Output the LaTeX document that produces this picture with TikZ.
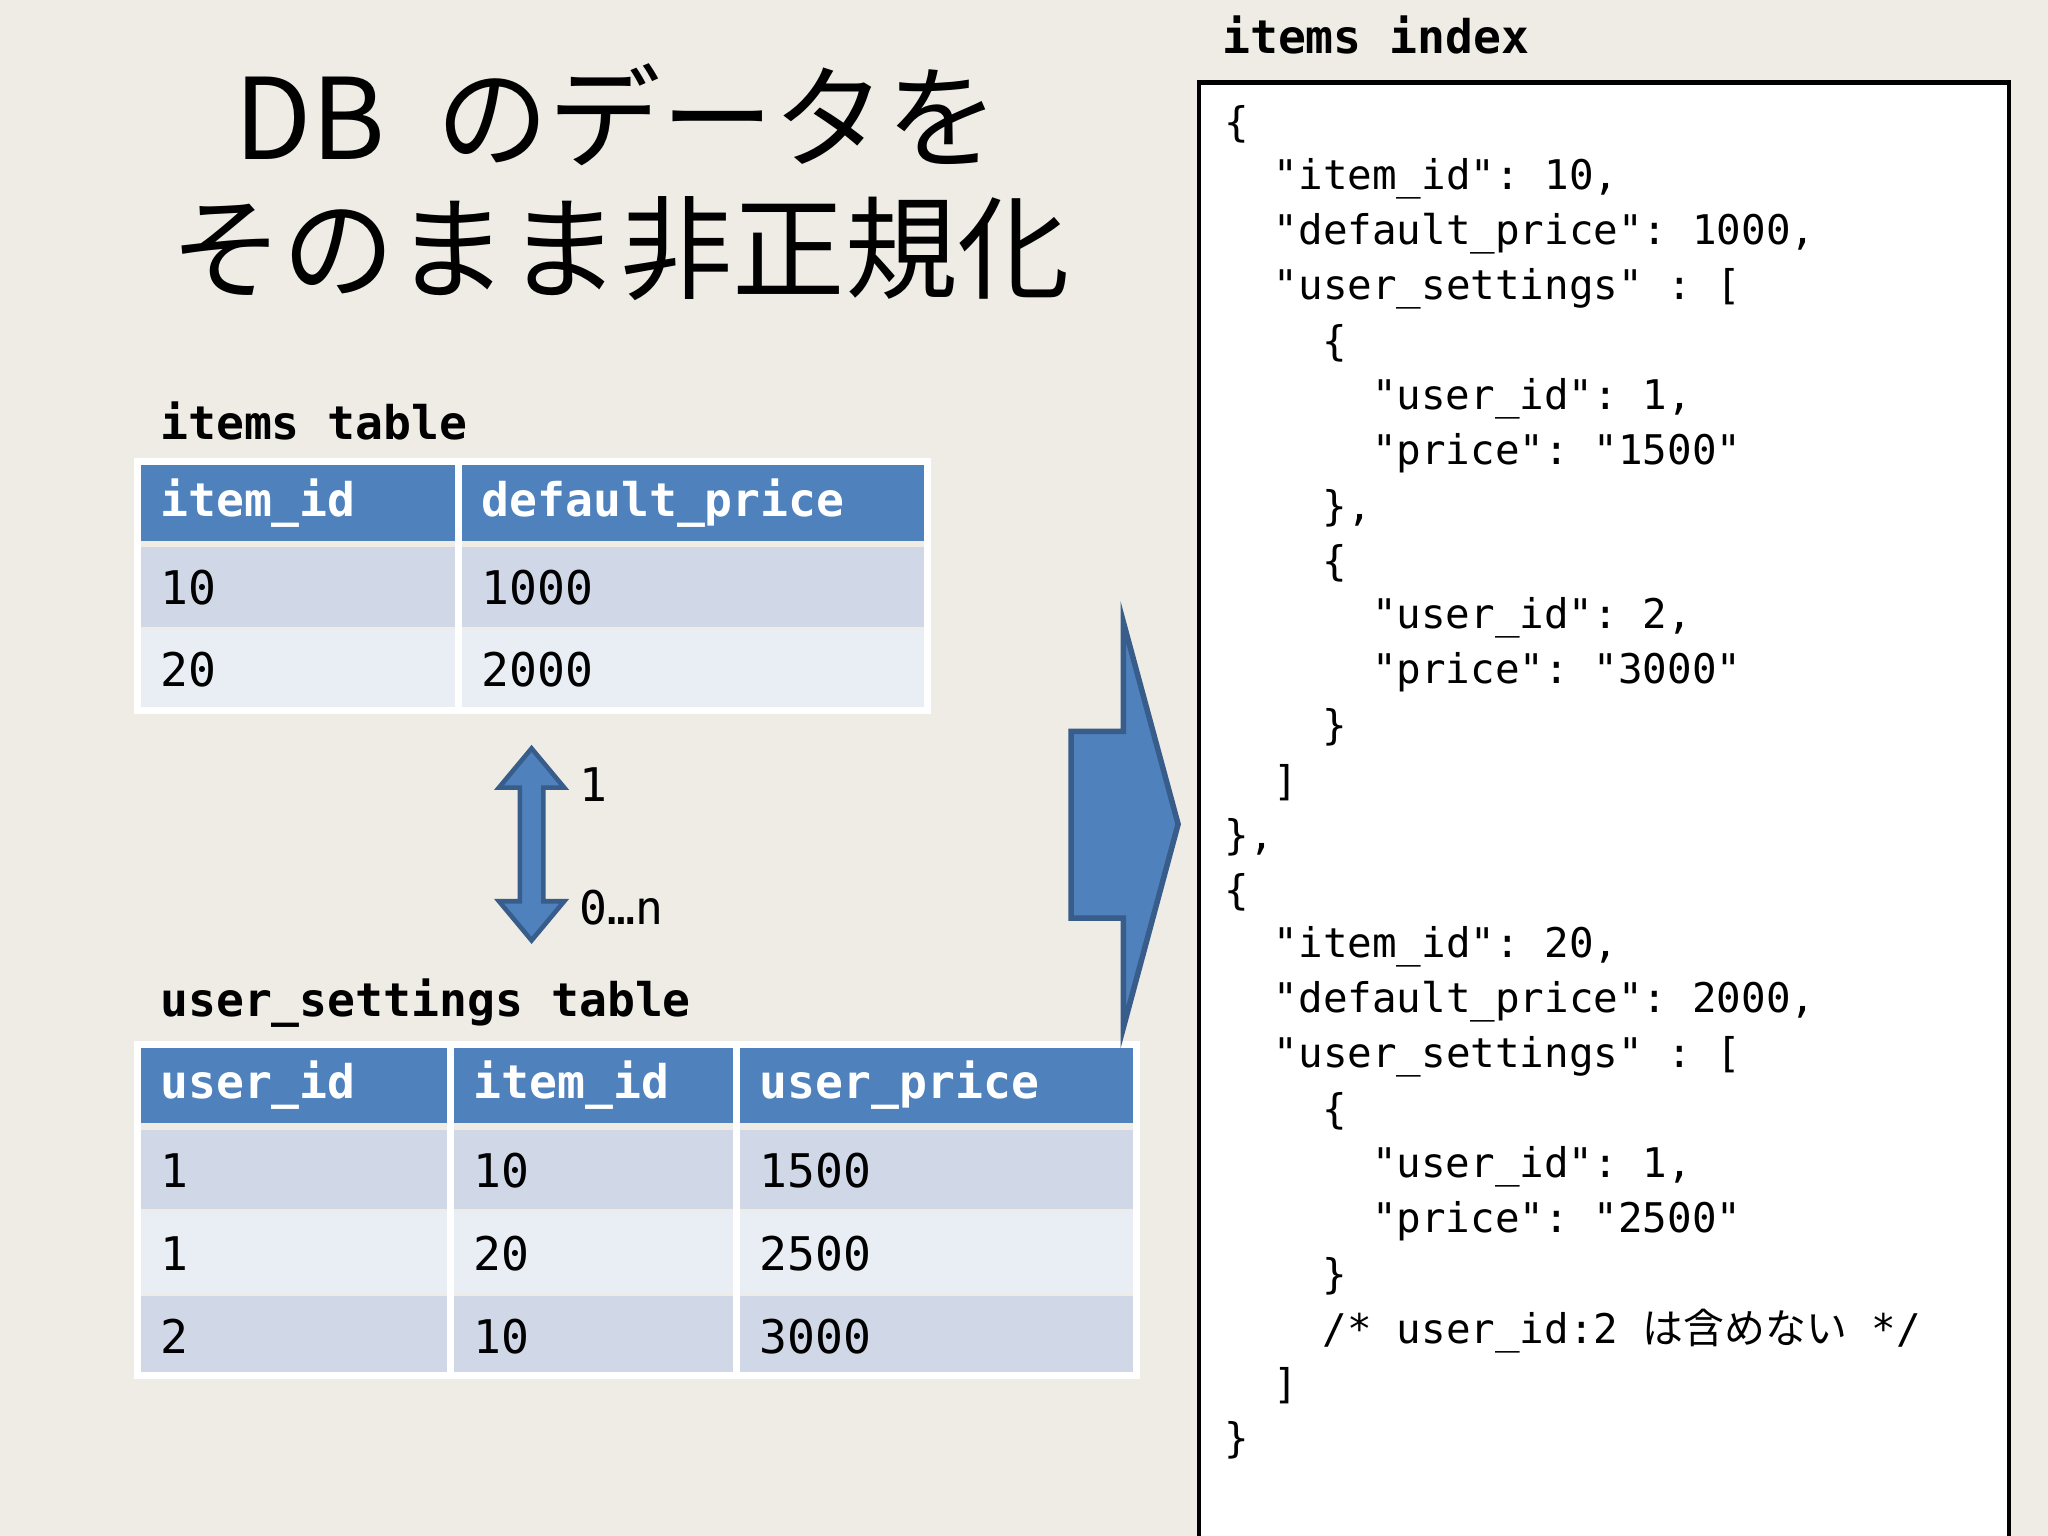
\documentclass[tikz,border=0pt]{standalone}
\usepackage{fontspec}
\setmonofont{DejaVu Sans Mono}
\newfontfamily\cjk{Noto Sans CJK JP}
\definecolor{bg}{HTML}{EEECE5}
\definecolor{hdr}{HTML}{4F81BD}
\definecolor{rowA}{HTML}{D0D8E8}
\definecolor{rowB}{HTML}{E9EDF4}
\definecolor{edge}{HTML}{385D8A}
\newcommand\cl[3]{\node[code] (c#1) at ({937+#2*18.8},{95+42*(#1-1)}) {#3};}
\begin{document}
\begin{tikzpicture}[x=0.01cm,y=-0.01cm,
  code/.style={anchor=west,inner sep=0,font=\ttfamily\fontsize{8.9}{10}\selectfont},
  cell/.style={anchor=west,inner sep=0,font=\ttfamily\fontsize{10.1}{12}\selectfont},
  hcell/.style={cell,text=white,font=\ttfamily\bfseries\fontsize{10.1}{12}\selectfont},
  lbl/.style={anchor=west,inner sep=0,font=\ttfamily\bfseries\fontsize{10.1}{12}\selectfont}]
\fill[bg] (0,0) rectangle (1568,1176);
\useasboundingbox (0,0) rectangle (1568,1176);
% title
\node[font=\cjk\fontsize{24.5}{28}\selectfont] (t1) at (472,88) {DB\ \ のデータを};
\node[font=\cjk\fontsize{24.5}{28}\selectfont] (t2) at (475,190) {そのまま非正規化};
% items table
\node[lbl] (l1) at (122,322) {items table};
\fill[hdr] (105,353) rectangle (710,414);
\fill[rowA] (105,419) rectangle (710,480);
\fill[rowB] (105,482) rectangle (710,544);
\draw[white,line width=1.5pt] (351,353) -- (351,544);
\draw[white,line width=1.5pt] (105,544) rectangle (710,353);
\node[hcell] at (122,385) {item\_id};
\node[hcell] at (368,385) {default\_price};
\node[cell] at (122,450) {10};
\node[cell] at (368,450) {1000};
\node[cell] at (122,513) {20};
\node[cell] at (368,513) {2000};
% user_settings table
\node[lbl] (l2) at (122,768) {user\_settings table};
\fill[hdr] (105,800) rectangle (870,860);
\fill[rowA] (105,865) rectangle (870,926);
\fill[rowB] (105,928) rectangle (870,990);
\fill[rowA] (105,992) rectangle (870,1053);
\draw[white,line width=1.5pt] (345,800) -- (345,1053) (564,800) -- (564,1053);
\draw[white,line width=1.5pt] (105,800) rectangle (870,1053);
\node[hcell] at (122,831) {user\_id};
\node[hcell] at (362,831) {item\_id};
\node[hcell] at (581,831) {user\_price};
\foreach \y/\a/\b/\c in {896/1/10/1500,960/1/20/2500,1023/2/10/3000}{
  \node[cell] at (122,\y) {\a};
  \node[cell] at (362,\y) {\b};
  \node[cell] at (581,\y) {\c};
}
% double arrow
\draw[edge,fill=hdr,line width=1pt] (407,573) -- (432,603) -- (416,603) -- (416,690) -- (432,690) -- (407,720) -- (382,690) -- (398,690) -- (398,603) -- (382,603) -- cycle;
\node[cell] (one) at (443,601) {1};
\node[cell] (zn) at (443,695) {0…n};
% big arrow
\draw[edge,fill=hdr,line width=1.2pt] (820,560) -- (860,560) -- (860,476) -- (902,631) -- (860,787) -- (860,703) -- (820,703) -- cycle;
% code box
\node[lbl] (l3) at (935,27) {items index};
\fill[white] (918,63) rectangle (1538,1180);
\draw[black,line width=1pt] (918,1180) -- (918,63) -- (1538,63) -- (1538,1180);
\cl{1}{0}{\{}
\cl{2}{2}{"item\_id": 10,}
\cl{3}{2}{"default\_price": 1000,}
\cl{4}{2}{"user\_settings" : [}
\cl{5}{4}{\{}
\cl{6}{6}{"user\_id": 1,}
\cl{7}{6}{"price": "1500"}
\cl{8}{4}{\},}
\cl{9}{4}{\{}
\cl{10}{6}{"user\_id": 2,}
\cl{11}{6}{"price": "3000"}
\cl{12}{4}{\}}
\cl{13}{2}{]}
\cl{14}{0}{\},}
\cl{15}{0}{\{}
\cl{16}{2}{"item\_id": 20,}
\cl{17}{2}{"default\_price": 2000,}
\cl{18}{2}{"user\_settings" : [}
\cl{19}{4}{\{}
\cl{20}{6}{"user\_id": 1,}
\cl{21}{6}{"price": "2500"}
\cl{22}{4}{\}}
\cl{23}{4}{/* user\_id:2 {\cjk は含めない} */}
\cl{24}{2}{]}
\cl{25}{0}{\}}
\end{tikzpicture}
\end{document}
